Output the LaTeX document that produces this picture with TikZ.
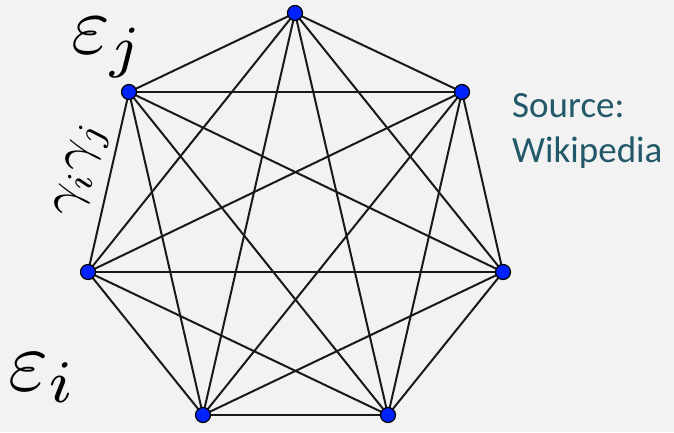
\documentclass[tikz,border=0pt]{standalone}
\usepackage{fontspec}
\newfontfamily\srcfont{Carlito}
\definecolor{bg}{HTML}{F2F2F2}
\definecolor{srcteal}{HTML}{215968}
\definecolor{vblue}{HTML}{0022FF}
\begin{document}
\begin{tikzpicture}[x=1pt,y=-1pt,
  vertex/.style={circle,fill=vblue,draw=black,line width=1.2pt,inner sep=0pt,minimum size=15pt},
  edge/.style={draw=black!90,line width=2pt},
  biglabel/.style={inner sep=0pt,text=black}]
\fill[bg] (0,0) rectangle (674,432);
\useasboundingbox (0,0) rectangle (674,432);
\coordinate (pA) at (295,13);
\coordinate (pB) at (129,92);
\coordinate (pC) at (462,92);
\coordinate (pD) at (88,272);
\coordinate (pE) at (503,272);
\coordinate (pF) at (203,415);
\coordinate (pG) at (388,415);
\foreach \u/\v in {A/B,A/C,A/D,A/E,A/F,A/G,B/C,B/D,B/E,B/F,B/G,C/D,C/E,C/F,C/G,D/E,D/F,D/G,E/F,E/G,F/G}
  \draw[edge] (p\u) -- (p\v);
\foreach \p in {A,B,C,D,E,F,G}
  \node[vertex] (n\p) at (p\p) {};
\node[biglabel] (lj) at (108,48) {\scalebox{8.3}{$\varepsilon_j$}};
\node[biglabel] (li) at (43,378) {\scalebox{8.6}{$\varepsilon_i$}};
\node[biglabel,rotate=77] (lg) at (83,170) {\scalebox{5.4}{$\gamma_i\gamma_j$}};
\node[inner sep=0pt,anchor=north west,align=left,text=srcteal,font=\srcfont\fontsize{37}{45}\selectfont] (src) at (512,93) {Source:\\Wikipedia};
\end{tikzpicture}
\end{document}
